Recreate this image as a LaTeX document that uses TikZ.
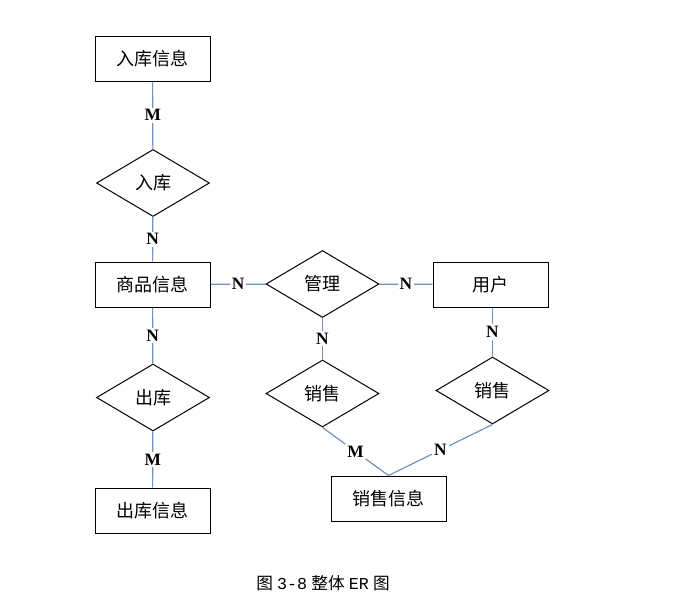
\documentclass[tikz,border=0pt]{standalone}
\usepackage{fontspec}
\setmainfont{Liberation Serif}
\setmonofont{Liberation Mono}
\newfontfamily\cjk{Noto Sans CJK SC}
\usepackage{xcolor}
\usetikzlibrary{shapes.geometric}
\definecolor{linkblue}{RGB}{112,146,190}

\begin{document}
\begin{tikzpicture}[
  x=0.75pt,y=-0.75pt,
  ent/.style={draw=black,line width=0.75pt,minimum width=86.25pt,minimum height=33.75pt,inner sep=0pt,font=\cjk\fontsize{13.5}{15}\selectfont},
  rel/.style={draw=black,line width=0.75pt,diamond,minimum width=84.75pt,minimum height=50.25pt,inner sep=0pt,font=\cjk\fontsize{13.5}{15}\selectfont},
  conn/.style={draw=linkblue,line width=0.9pt},
  card/.style={fill=white,inner sep=1.5pt,font=\fontsize{13}{15}\selectfont\bfseries}
]
\useasboundingbox (0,0) rectangle (675,615);
%% ─── Left column: 入库 / 商品 / 出库 ─────────────────────────────────────────
\node[ent] (rkxx) at (152.5, 58.5) {入库信息};
\node[rel] (rk)   at (153, 183)    {入库};
\node[ent] (spxx) at (152.5, 284.5) {商品信息};
\node[rel] (ck)   at (153, 397.5)  {出库};
\node[ent] (ckxx) at (152.5, 510.5) {出库信息};
%% ─── Right part: 管理 / 用户 / 销售 ──────────────────────────────────────────
\node[rel] (gl)   at (322.5, 284)  {管理};
\node[ent] (yh)   at (490.5, 284.5) {用户};
\node[rel] (xs1)  at (322.5, 393.5) {销售};
\node[rel] (xs2)  at (492.5, 390.5) {销售};
\node[ent] (xsxx) at (388.5, 498.5) {销售信息};
%% ─── Connectors ──────────────────────────────────────────────────────────────
\draw[conn] (rkxx) -- node[card] {M} (rk);
\draw[conn] (rk)   -- node[card] {N} (spxx);
\draw[conn] (spxx) -- node[card] {N} (ck);
\draw[conn] (ck)   -- node[card] {M} (ckxx);
\draw[conn] (spxx) -- node[card] {N} (gl);
\draw[conn] (gl)   -- node[card] {N} (yh);
\draw[conn] (gl)   -- node[card] {N} (xs1);
\draw[conn] (yh.south -| xs2) -- node[card] {N} (xs2);
\draw[conn] (xs1.south) -- node[card] {M} (xsxx.north);
\draw[conn] (xs2.south) -- node[card] {N} (xsxx.north);
%% ─── Caption ─────────────────────────────────────────────────────────────────
\node[font=\fontsize{12.5}{14}\selectfont] (cap) at (323, 583)
  {{\cjk 图} {\ttfamily 3-8} {\cjk 整体} {\ttfamily ER} {\cjk 图}};
\end{tikzpicture}
\end{document}
